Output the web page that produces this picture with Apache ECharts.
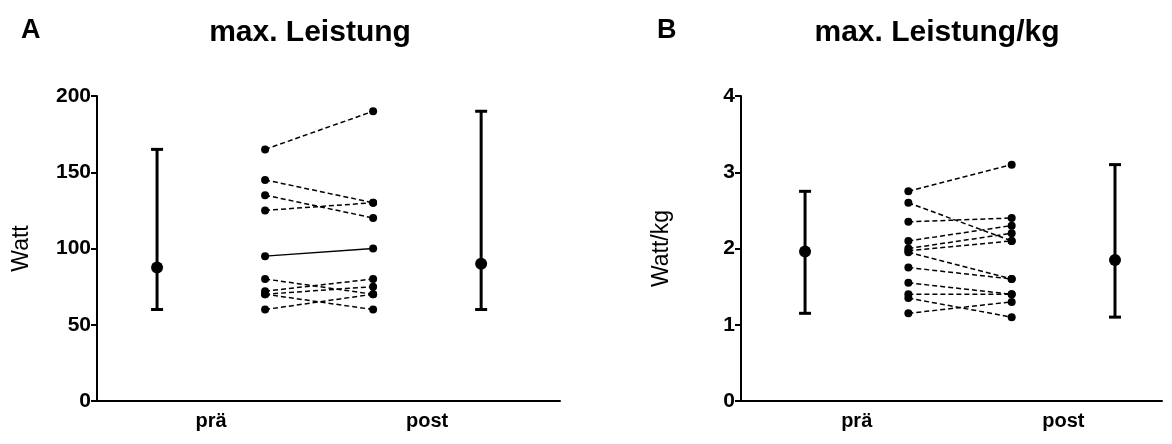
<!DOCTYPE html>
<html>
<head>
<meta charset="utf-8">
<script src="https://cdn.jsdelivr.net/npm/echarts@6/dist/echarts.min.js"></script>
<style>html,body{margin:0;padding:0;background:#fff}#c{width:1172px;height:444px}</style>
</head>
<body>
<div id="c"></div>
<script>
// ---- data ----
const categories = ['prä', 'post'];
// Panel A: max. Leistung (Watt), one entry per subject
const aPre  = [165, 145, 135, 125, 95, 80, 72, 70, 70, 60];
const aPost = [190, 130, 120, 130, 100, 70, 80, 75, 60, 70];
const aSolid = [false, false, false, false, true, false, false, false, false, false];
// summary: [center, low, high] for prä and post
const aSumPre  = [87.5, 60, 165];
const aSumPost = [90, 60, 190];
// Panel B: max. Leistung/kg (Watt/kg)
const bPre  = [2.75, 2.6, 2.35, 2.1, 2.0, 1.97, 1.95, 1.75, 1.55, 1.4, 1.35, 1.15];
const bPost = [3.1, 2.1, 2.4, 2.3, 2.2, 2.1, 1.6, 1.6, 1.4, 1.4, 1.1, 1.3];
const bSumPre  = [1.96, 1.15, 2.75];
const bSumPost = [1.85, 1.1, 3.1];
const aTicks = [0, 50, 100, 150, 200];
const bTicks = [0, 1, 2, 3, 4];

// x positions of the four columns
const X_SUM_PRE = 1, X_PRE = 2, X_POST = 3, X_SUM_POST = 4;
const X_LAB = [1.5, 3.5];

const FONT = 'Arial, "Liberation Sans", Helvetica, sans-serif';

function xAxisFor(grid, min, max) {
  return {
    type: 'value', gridIndex: grid, min: min, max: max,
    splitLine: {show: false},
    axisLine: {show: true, onZero: false, lineStyle: {color: '#000', width: 2}},
    axisTick: {show: false},
    axisLabel: {
      customValues: X_LAB,
      formatter: v => categories[Math.abs(v - X_LAB[0]) < 0.01 ? 0 : 1],
      color: '#000', fontWeight: 'bold', fontSize: 20, fontFamily: FONT, margin: 10
    }
  };
}
function yAxisFor(grid, max, interval, name, gap) {
  return {
    type: 'value', gridIndex: grid, min: 0, max: max, interval: interval,
    name: name, nameLocation: 'middle', nameGap: gap, nameRotate: 90,
    nameTextStyle: {color: '#000', fontSize: 23, fontFamily: FONT},
    splitLine: {show: false},
    axisLine: {show: true, lineStyle: {color: '#000', width: 2}},
    axisTick: {show: true, length: 6, lineStyle: {color: '#000', width: 2}},
    axisLabel: {color: '#000', fontWeight: 'bold', fontSize: 21, fontFamily: FONT, margin: 6}
  };
}

function pairSeries(pre, post, grid, solid) {
  return pre.map((v, i) => ({
    type: 'line', xAxisIndex: grid, yAxisIndex: grid,
    data: [[X_PRE, v], [X_POST, post[i]]],
    symbol: 'circle', symbolSize: 8,
    itemStyle: {color: '#000'},
    lineStyle: {color: '#000', width: 1.5, type: (solid && solid[i]) ? 'solid' : [5, 3]},
    silent: true, animation: false, z: 3
  }));
}

function summarySeries(grid, sums) {
  return {
    type: 'custom', xAxisIndex: grid, yAxisIndex: grid,
    data: [[X_SUM_PRE].concat(sums[0]), [X_SUM_POST].concat(sums[1])],
    renderItem: function (params, api) {
      const x = api.value(0);
      const c = api.coord([x, api.value(1)]);
      const lo = api.coord([x, api.value(2)]);
      const hi = api.coord([x, api.value(3)]);
      const w = 6;
      const st = {stroke: '#000', lineWidth: 3};
      return {
        type: 'group', children: [
          {type: 'line', shape: {x1: lo[0], y1: lo[1], x2: hi[0], y2: hi[1]}, style: st},
          {type: 'line', shape: {x1: lo[0] - w, y1: lo[1], x2: lo[0] + w, y2: lo[1]}, style: st},
          {type: 'line', shape: {x1: hi[0] - w, y1: hi[1], x2: hi[0] + w, y2: hi[1]}, style: st},
          {type: 'circle', shape: {cx: c[0], cy: c[1], r: 6}, style: {fill: '#000'}}
        ]
      };
    },
    animation: false, z: 4
  };
}

const chart = echarts.init(document.getElementById('c'), null, {renderer: 'canvas'});
chart.setOption({
  backgroundColor: '#fff',
  animation: false,
  title: [
    {text: 'A', left: 16, top: 12, textStyle: {fontSize: 27, fontWeight: 'bold', color: '#000', fontFamily: FONT}},
    {text: 'max. Leistung', left: 305, top: 13, textAlign: 'center', textStyle: {fontSize: 30, fontWeight: 'bold', color: '#000', fontFamily: FONT}},
    {text: 'B', left: 652, top: 12, textStyle: {fontSize: 27, fontWeight: 'bold', color: '#000', fontFamily: FONT}},
    {text: 'max. Leistung/kg', left: 932, top: 13, textAlign: 'center', textStyle: {fontSize: 30, fontWeight: 'bold', color: '#000', fontFamily: FONT}}
  ],
  grid: [
    {left: 97, top: 96, width: 463, bottom: 43, containLabel: false},
    {left: 741, top: 96, width: 421, bottom: 43, containLabel: false}
  ],
  xAxis: [xAxisFor(0, 0.444, 4.73), xAxisFor(1, 0.38, 4.455)],
  yAxis: [yAxisFor(0, aTicks[aTicks.length - 1], aTicks[1] - aTicks[0], 'Watt', 64),
          yAxisFor(1, bTicks[bTicks.length - 1], bTicks[1] - bTicks[0], 'Watt/kg', 68)],
  series: [].concat(
    pairSeries(aPre, aPost, 0, aSolid),
    pairSeries(bPre, bPost, 1, null),
    [summarySeries(0, [aSumPre, aSumPost]), summarySeries(1, [bSumPre, bSumPost])]
  )
});
</script>
</body>
</html>
